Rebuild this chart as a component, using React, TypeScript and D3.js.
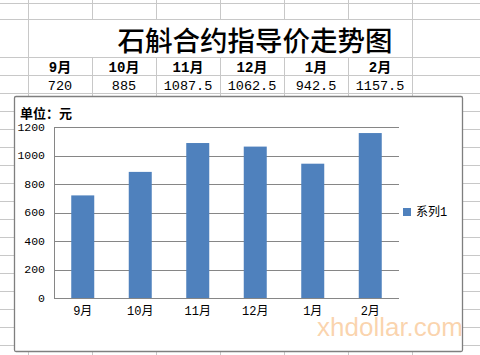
import React from "react";
import * as d3 from "d3";

const title = "石斛合约指导价走势图";
const months = ["9月", "10月", "11月", "12月", "1月", "2月"];
const valueLabels = ["720", "885", "1087.5", "1062.5", "942.5", "1157.5"];
const values = [720, 885, 1087.5, 1062.5, 942.5, 1157.5];
const yTicks = [0, 200, 400, 600, 800, 1000, 1200];
const seriesName = "系列1";
const unitLabel = "单位：元";
const watermark = "xhdollar.com";

const W = 480;
const H = 355;
const gridColor = "#c8c8c8";
const colX = [28, 92, 156, 220, 284, 348, 412];
const rowY = [3, 19, 57, 75, 93, 111, 129, 147, 165, 183, 201, 219, 237, 255, 273, 291, 309, 327, 345];

const mono = "'Liberation Mono', 'Noto Sans CJK SC', monospace";
const cjk = "'Noto Sans CJK SC', sans-serif";

const plot = { left: 54, right: 399, top: 127, bottom: 298 };
const chartBox = { x: 14, y: 96, w: 448, h: 255 };

export default function App() {
  const x = d3
    .scaleBand<string>()
    .domain(months)
    .range([plot.left, plot.right])
    .paddingInner(0.6)
    .paddingOuter(0.3);
  const y = d3.scaleLinear().domain([0, 1200]).range([plot.bottom, plot.top]);
  const cell = d3.scaleBand<string>().domain(months).range([28, 412]);

  return (
    <svg
      width={W}
      height={H}
      style={{ position: "absolute", left: 0, top: 0, background: "#fff" }}
    >
      <rect x={0} y={0} width={W} height={H} fill="#fff" />
      {/* spreadsheet grid */}
      {rowY.map((ry) => (
        <line key={"r" + ry} x1={0} x2={W} y1={ry + 0.5} y2={ry + 0.5} stroke={gridColor} />
      ))}
      {colX.map((cx) => (
        <g key={"c" + cx}>
          <line x1={cx + 0.5} x2={cx + 0.5} y1={0} y2={19} stroke={gridColor} />
          <line
            x1={cx + 0.5}
            x2={cx + 0.5}
            y1={cx === 28 || cx === 412 ? 19 : 57}
            y2={H}
            stroke={gridColor}
          />
        </g>
      ))}
      {/* title */}
      <text
        x={255}
        y={39}
        textAnchor="middle"
        dominantBaseline="central"
        fontFamily={cjk}
        fontSize={27.5}
        fontWeight={500}
        fill="#000"
      >
        {title}
      </text>
      {/* header & values rows */}
      {months.map((m, i) => (
        <g key={"h" + m}>
          <text
            x={(cell(m) ?? 0) + cell.bandwidth() / 2}
            y={68}
            textAnchor="middle"
            dominantBaseline="central"
            fontFamily={mono}
            fontSize={14}
            fontWeight="bold"
            fill="#000"
          >
            {m}
          </text>
          <text
            x={(cell(m) ?? 0) + cell.bandwidth() / 2}
            y={86}
            textAnchor="middle"
            dominantBaseline="central"
            fontFamily={mono}
            fontSize={13.5}
            fill="#000"
          >
            {valueLabels[i]}
          </text>
        </g>
      ))}
      {/* chart box */}
      <rect
        x={chartBox.x + 0.5}
        y={chartBox.y + 0.5}
        width={chartBox.w}
        height={chartBox.h}
        rx={1.5}
        fill="#fff"
        stroke="#7f7f7f"
        strokeWidth={1.3}
      />
      <text
        x={20}
        y={112}
        dominantBaseline="central"
        fontFamily={cjk}
        fontSize={13}
        fontWeight="bold"
        fill="#000"
      >
        {unitLabel}
      </text>
      {/* gridlines */}
      {yTicks.map((t) => (
        <g key={"y" + t}>
          <line
            x1={plot.left}
            x2={plot.right}
            y1={Math.round(y(t)) + 0.5}
            y2={Math.round(y(t)) + 0.5}
            stroke="#868686"
          />
          <text
            x={45}
            y={y(t)}
            textAnchor="end"
            dominantBaseline="central"
            fontFamily={mono}
            fontSize={11.5}
            fill="#000"
          >
            {t}
          </text>
        </g>
      ))}
      <line
        x1={plot.left + 0.5}
        x2={plot.left + 0.5}
        y1={plot.top}
        y2={plot.bottom + 1}
        stroke="#868686"
      />
      {/* bars */}
      {months.map((m, i) => (
        <rect
          key={"b" + m}
          x={x(m)}
          y={y(values[i])}
          width={x.bandwidth()}
          height={y(0) - y(values[i])}
          fill="#4f81bd"
        />
      ))}
      {/* x labels */}
      {months.map((m) => (
        <text
          key={"x" + m}
          x={(x(m) ?? 0) + x.bandwidth() / 2}
          y={312}
          textAnchor="middle"
          dominantBaseline="central"
          fontFamily={mono}
          fontSize={12}
          fill="#000"
        >
          {m}
        </text>
      ))}
      {/* legend */}
      <rect x={403} y={208} width={8} height={8} fill="#4f81bd" />
      <text
        x={416}
        y={212.5}
        dominantBaseline="central"
        fontFamily={mono}
        fontSize={12}
        fill="#000"
      >
        {seriesName}
      </text>
      {/* watermark */}
      <text
        x={317}
        y={336}
        fontFamily="'Liberation Sans', Arial, sans-serif"
        fontSize={26}
        fill="#f7b777"
        fillOpacity={0.6}
      >
        {watermark}
      </text>
    </svg>
  );
}
